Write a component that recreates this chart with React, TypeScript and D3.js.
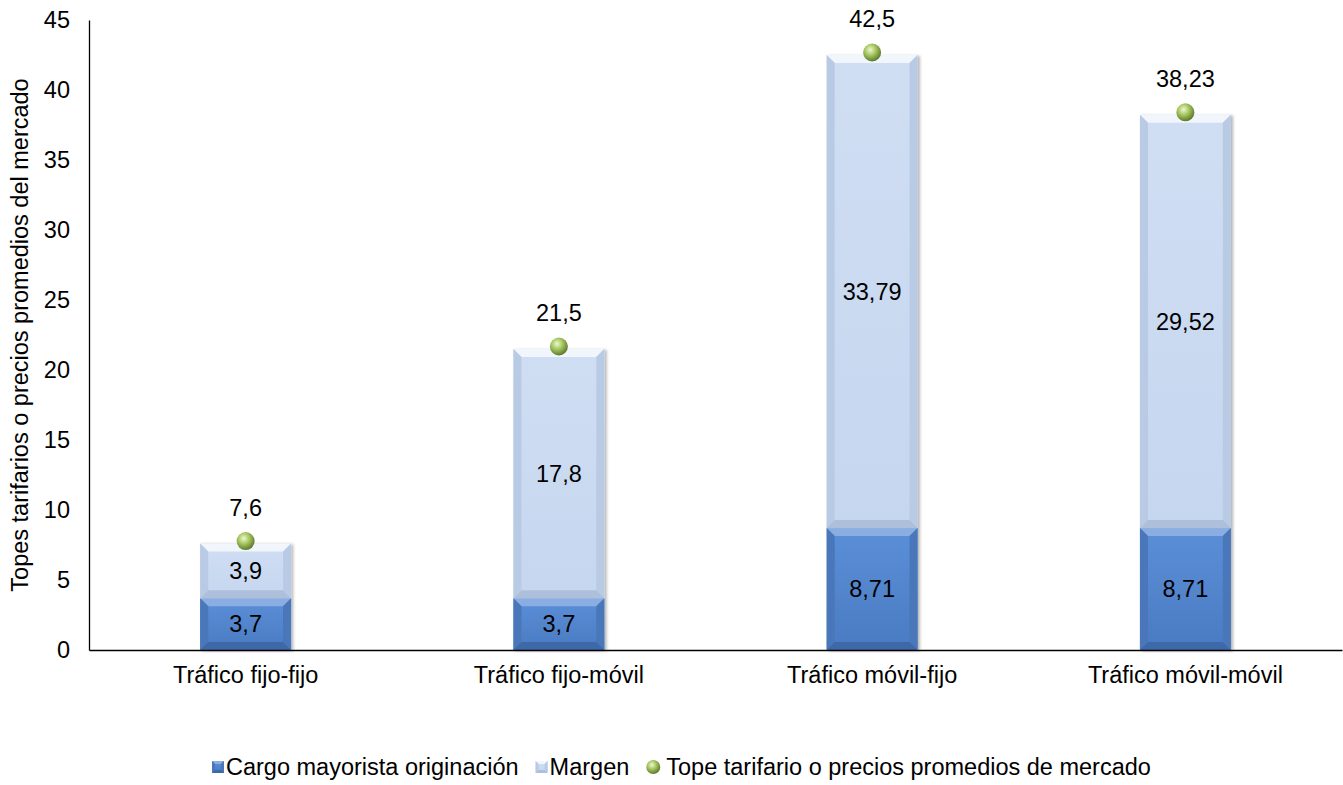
import React, { useEffect, useRef } from 'react'
import * as d3 from 'd3'

const categories = ['Tráfico fijo-fijo', 'Tráfico fijo-móvil', 'Tráfico móvil-fijo', 'Tráfico móvil-móvil']
const cargo = [3.7, 3.7, 8.71, 8.71]
const margen = [3.9, 17.8, 33.79, 29.52]
const tope = [7.6, 21.5, 42.5, 38.23]
const yTicks = [0, 5, 10, 15, 20, 25, 30, 35, 40, 45]
const seriesNames = ['Cargo mayorista originación', 'Margen', 'Tope tarifario o precios promedios de mercado']

const fmt = (v: number) => String(v).replace('.', ',')

const App: React.FC = () => {
  const svgRef = useRef<SVGSVGElement | null>(null)

  useEffect(() => {
    if (!svgRef.current) return
    const svg = d3.select(svgRef.current)
    svg.selectAll('*').remove()

    const width = 1343
    const height = 785
    const margin = { top: 20, right: 1, bottom: 135, left: 89 }
    const font = "'Liberation Sans', Arial, sans-serif"
    const fs = '23.5px'

    svg
      .attr('width', width)
      .attr('height', height)
      .attr('viewBox', [0, 0, width, height])
      .style('position', 'absolute')
      .style('left', 0)
      .style('top', 0)
      .style('font-family', font)

    const defs = svg.append('defs')
    const ball = defs.append('radialGradient').attr('id', 'ball').attr('cx', '40%').attr('cy', '35%').attr('r', '65%')
    ball.append('stop').attr('offset', '0%').attr('stop-color', '#eef7d2')
    ball.append('stop').attr('offset', '45%').attr('stop-color', '#a9c964')
    ball.append('stop').attr('offset', '100%').attr('stop-color', '#5e7a2a')
    const shadow = defs.append('filter').attr('id', 'shadow').attr('x', '-10%').attr('y', '-10%').attr('width', '130%').attr('height', '130%')
    shadow.append('feDropShadow').attr('dx', 2).attr('dy', 1).attr('stdDeviation', 1.5).attr('flood-color', '#000').attr('flood-opacity', 0.3)

    const faceGrads = [
      ['#5b8fd8', '#4a7bc2'],
      ['#d0def3', '#c5d6ef'],
    ]
    faceGrads.forEach((c, i) => {
      const lg = defs.append('linearGradient').attr('id', `face${i}`).attr('x1', 0).attr('y1', 0).attr('x2', 0).attr('y2', 1)
      lg.append('stop').attr('offset', '0%').attr('stop-color', c[0])
      lg.append('stop').attr('offset', '100%').attr('stop-color', c[1])
    })

    const x = d3
      .scaleBand()
      .domain(categories)
      .range([margin.left, width - margin.right])
      .paddingInner(0.71)
      .paddingOuter(0.355)

    const y = d3
      .scaleLinear()
      .domain([0, 45])
      .range([height - margin.bottom, margin.top])

    // bevelled segment: face + four edges
    const palettes = [
      { face: 'url(#face0)', top: '#8aaee2', side: '#4877ba', bottom: '#3d69a8' },
      { face: 'url(#face1)', top: '#f1f5fc', side: '#b9cae5', bottom: '#aebfdb' },
    ]
    const bevel = 8

    const drawSegment = (g: d3.Selection<SVGGElement, unknown, null, undefined>, x0: number, y0: number, w: number, h: number, p: typeof palettes[0], bv = bevel) => {
      const b = Math.min(bv, h / 2)
      const x1 = x0 + w
      const y1 = y0 + h
      g.append('rect').attr('x', x0).attr('y', y0).attr('width', w).attr('height', h).attr('fill', p.face)
      g.append('polygon').attr('points', `${x0},${y0} ${x1},${y0} ${x1 - b},${y0 + b} ${x0 + b},${y0 + b}`).attr('fill', p.top)
      g.append('polygon').attr('points', `${x0},${y0} ${x0 + b},${y0 + b} ${x0 + b},${y1 - b} ${x0},${y1}`).attr('fill', p.side)
      g.append('polygon').attr('points', `${x1},${y0} ${x1 - b},${y0 + b} ${x1 - b},${y1 - b} ${x1},${y1}`).attr('fill', p.side)
      g.append('polygon').attr('points', `${x0},${y1} ${x0 + b},${y1 - b} ${x1 - b},${y1 - b} ${x1},${y1}`).attr('fill', p.bottom)
    }

    const bars = svg.append('g').attr('filter', 'url(#shadow)')
    categories.forEach((c, i) => {
      const bx = x(c)!
      const bw = x.bandwidth()
      const segs = [
        [0, cargo[i]],
        [cargo[i], cargo[i] + margen[i]],
      ]
      segs.forEach(([a, b], k) => {
        const g = bars.append('g')
        drawSegment(g, bx, y(b), bw, y(a) - y(b), palettes[k])
      })
    })

    // segment labels
    const labels = svg.append('g').attr('text-anchor', 'middle').style('font-size', fs).attr('fill', '#000')
    categories.forEach((c, i) => {
      const cx = x(c)! + x.bandwidth() / 2
      labels
        .append('text')
        .attr('x', cx)
        .attr('y', (y(0) + y(cargo[i])) / 2)
        .attr('dy', '0.35em')
        .text(fmt(cargo[i]))
      labels
        .append('text')
        .attr('x', cx)
        .attr('y', (y(cargo[i]) + y(cargo[i] + margen[i])) / 2)
        .attr('dy', '0.35em')
        .text(fmt(margen[i]))
    })

    // tope markers
    const markers = svg.append('g')
    markers
      .selectAll('circle')
      .data(tope)
      .join('circle')
      .attr('cx', (d, i) => x(categories[i])! + x.bandwidth() / 2)
      .attr('cy', d => y(d) - 2.5)
      .attr('r', 9)
      .attr('fill', 'url(#ball)')
    labels
      .selectAll('text.tope')
      .data(tope)
      .join('text')
      .attr('class', 'tope')
      .attr('x', (d, i) => x(categories[i])! + x.bandwidth() / 2)
      .attr('y', d => y(d) - 28)
      .text(d => fmt(d))

    // axes
    const yAxis = svg
      .append('g')
      .attr('transform', `translate(${margin.left},0)`)
      .call(d3.axisLeft(y).tickValues(yTicks).tickSize(0).tickPadding(19))
    yAxis.select('.domain').attr('stroke', '#000').attr('stroke-width', 1.3)
    yAxis.selectAll('.tick text').style('font-size', fs).style('font-family', font).attr('fill', '#000')

    const xAxis = svg
      .append('g')
      .attr('transform', `translate(0,${y(0)})`)
      .call(d3.axisBottom(x).tickSize(0).tickPadding(16))
    xAxis.select('.domain').attr('stroke', '#000').attr('stroke-width', 1.3)
    xAxis.selectAll('.tick text').style('font-size', fs).style('font-family', font).attr('fill', '#000')

    svg
      .append('text')
      .attr('transform', `translate(28,${(y(0) + y(45)) / 2}) rotate(-90)`)
      .attr('text-anchor', 'middle')
      .style('font-size', fs)
      .attr('fill', '#000')
      .text('Topes tarifarios o precios promedios del mercado')

    // legend
    const legend = svg.append('g').style('font-size', fs)
    const ly = 767
    let lx = 212
    seriesNames.forEach((name, i) => {
      let tx = lx + 14
      if (i < 2) {
        const g = legend.append('g')
        drawSegment(g, lx, ly - 6, 12, 12, palettes[i], 3)
      } else {
        legend.append('circle').attr('cx', lx + 7).attr('cy', ly).attr('r', 7).attr('fill', 'url(#ball)')
        tx = lx + 20
      }
      const t = legend
        .append('text')
        .attr('x', tx)
        .attr('y', ly)
        .attr('dy', '0.35em')
        .attr('fill', '#000')
        .text(name)
      const tw = (t.node() as SVGTextElement).getComputedTextLength()
      lx = tx + tw + 17
    })
  }, [])

  return <svg ref={svgRef}></svg>
}

export default App
